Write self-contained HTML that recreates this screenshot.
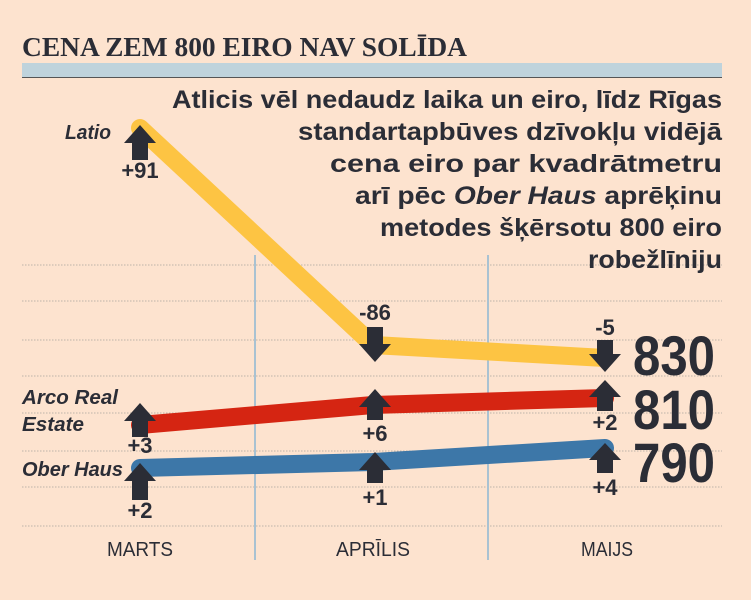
<!DOCTYPE html>
<html><head><meta charset="utf-8"><style>body{margin:0;background:#fde3cf}svg{display:block}</style></head><body>
<svg width="751" height="600" viewBox="0 0 751 600" xmlns="http://www.w3.org/2000/svg" font-family="'Liberation Sans',sans-serif">
<rect width="751" height="600" fill="#fde3cf"/>
<text x="22" y="56" font-family="'Liberation Serif',serif" font-weight="bold" font-size="27" fill="#2b2d36" textLength="445" lengthAdjust="spacingAndGlyphs">CENA ZEM 800 EIRO NAV SOLĪDA</text>
<rect x="22" y="63" width="700" height="14" fill="#bfd3dc"/>
<line x1="22" y1="77.5" x2="722" y2="77.5" stroke="#555" stroke-width="1"/>
<g stroke="#bdb3a8" stroke-width="1" stroke-dasharray="1.5,1.5">
<line x1="22" y1="265" x2="722" y2="265"/><line x1="22" y1="301" x2="722" y2="301"/><line x1="22" y1="340" x2="722" y2="340"/><line x1="22" y1="376" x2="722" y2="376"/><line x1="22" y1="413" x2="722" y2="413"/><line x1="22" y1="451" x2="722" y2="451"/><line x1="22" y1="487" x2="722" y2="487"/><line x1="22" y1="526" x2="722" y2="526"/>
</g>
<g stroke="#a9c2d2" stroke-width="2"><line x1="255" y1="255" x2="255" y2="560"/><line x1="488" y1="255" x2="488" y2="560"/></g>
<g font-weight="bold" font-size="25" fill="#2b2d36">
<text x="172" y="108" textLength="550" lengthAdjust="spacingAndGlyphs">Atlicis vēl nedaudz laika un eiro, līdz Rīgas</text>
<text x="298" y="140" textLength="424" lengthAdjust="spacingAndGlyphs">standartapbūves dzīvokļu vidējā</text>
<text x="330" y="172" textLength="392" lengthAdjust="spacingAndGlyphs">cena eiro par kvadrātmetru</text>
<text x="355" y="204" textLength="367" lengthAdjust="spacingAndGlyphs">arī pēc <tspan font-style="italic">Ober Haus</tspan> aprēķinu</text>
<text x="380" y="236" textLength="342" lengthAdjust="spacingAndGlyphs">metodes šķērsotu 800 eiro</text>
<text x="588" y="268" textLength="134" lengthAdjust="spacingAndGlyphs">robežlīniju</text>
</g>
<g fill="none" stroke-linecap="round" stroke-linejoin="round" stroke-width="18">
<polyline points="140,128 373,345 605,358" stroke="#fdc443"/>
<polyline points="140,425 373,405 605,398" stroke="#d52512"/>
<polyline points="140,468 373,462 605,448" stroke="#3d77a8"/>
</g>
<g fill="#2b2d36">
<polygon points="140,125 156,143 148,143 148,160 132,160 132,143 124,143"/>
<polygon points="375,362 391,344 383,344 383,327 367,327 367,344 359,344"/>
<polygon points="605,372 621,354 613,354 613,340 597,340 597,354 589,354"/>
<polygon points="140,403 156,421 148,421 148,437 132,437 132,421 124,421"/>
<polygon points="375,389 391,407 383,407 383,420 367,420 367,407 359,407"/>
<polygon points="605,380 621,397 613,397 613,411 597,411 597,397 589,397"/>
<polygon points="140,463 156,481 148,481 148,500 132,500 132,481 124,481"/>
<polygon points="375,452 391,470 383,470 383,483 367,483 367,470 359,470"/>
<polygon points="605,443 621,460 613,460 613,473 597,473 597,460 589,460"/>
</g>
<g font-weight="bold" font-size="22" fill="#2b2d36" text-anchor="middle">
<text x="140" y="178">+91</text>
<text x="375" y="320">-86</text>
<text x="605" y="335">-5</text>
<text x="140" y="453">+3</text>
<text x="375" y="441">+6</text>
<text x="605" y="430">+2</text>
<text x="140" y="518">+2</text>
<text x="375" y="505">+1</text>
<text x="605" y="495">+4</text>
</g>
<g font-weight="bold" font-size="56" fill="#2b2d36">
<text x="633" y="375" textLength="82" lengthAdjust="spacingAndGlyphs">830</text>
<text x="633" y="429" textLength="82" lengthAdjust="spacingAndGlyphs">810</text>
<text x="633" y="482" textLength="82" lengthAdjust="spacingAndGlyphs">790</text>
</g>
<g font-weight="bold" font-style="italic" font-size="20" fill="#2b2d36">
<text x="65" y="139" textLength="46" lengthAdjust="spacingAndGlyphs">Latio</text>
<text x="22" y="404" textLength="96" lengthAdjust="spacingAndGlyphs">Arco Real</text>
<text x="22" y="431" textLength="62" lengthAdjust="spacingAndGlyphs">Estate</text>
<text x="22" y="476" textLength="101" lengthAdjust="spacingAndGlyphs">Ober Haus</text>
</g>
<g font-size="20" fill="#2b2d36" text-anchor="middle">
<text x="140" y="556" textLength="66" lengthAdjust="spacingAndGlyphs">MARTS</text><text x="373" y="556" textLength="74" lengthAdjust="spacingAndGlyphs">APRĪLIS</text><text x="607" y="556" textLength="52" lengthAdjust="spacingAndGlyphs">MAIJS</text>
</g>
</svg>
</body></html>
